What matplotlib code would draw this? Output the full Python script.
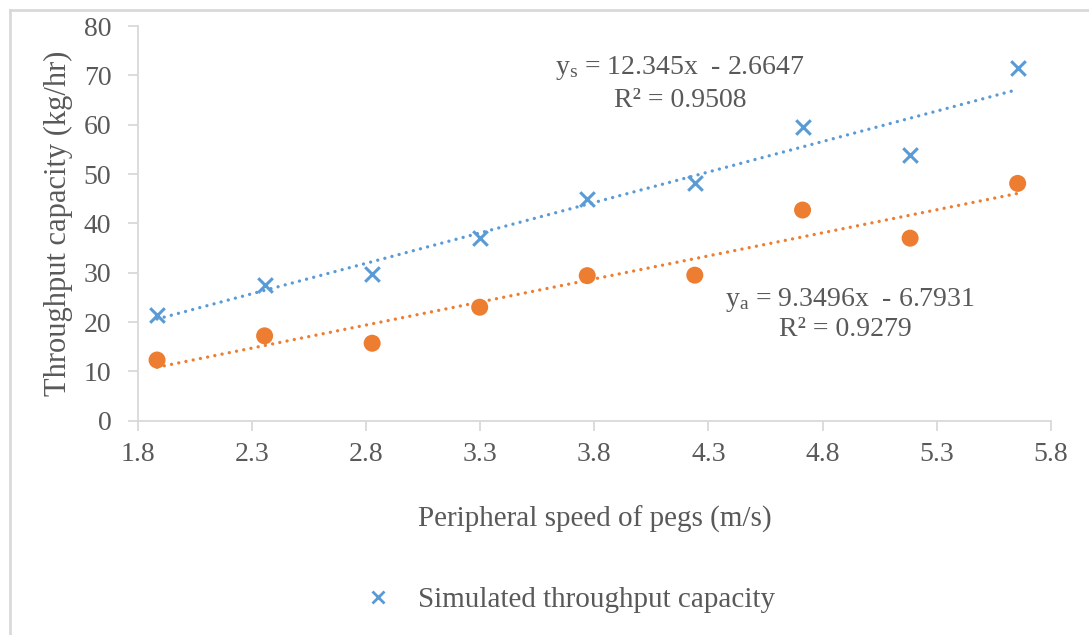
import matplotlib.pyplot as plt
from matplotlib.lines import Line2D
import numpy as np

plt.rcParams["font.family"] = ["Liberation Serif", "DejaVu Serif"]
plt.rcParams["mathtext.fontset"] = "custom"
plt.rcParams["mathtext.rm"] = "Liberation Serif"
plt.rcParams["mathtext.it"] = "Liberation Serif"

# data
speed = [1.885, 2.356, 2.827, 3.298, 3.769, 4.240, 4.712, 5.183, 5.654]
simulated = [21.4, 27.6, 29.8, 37.0, 44.9, 48.2, 59.5, 53.9, 71.4]
actual = [12.3, 17.2, 15.7, 23.0, 29.4, 29.5, 42.7, 37.0, 48.1]

# trend line coefficients as printed on the chart
sim_fit = (12.345, -2.6647)
act_fit = (9.3496, -6.7931)

blue = "#5B9BD5"
orange = "#ED7D31"
grey_txt = "#595959"
grey_ln = "#D9D9D9"

fig = plt.figure(figsize=(10.89, 6.35), dpi=100)
ax = fig.add_axes([0.1264, 0.3375, 0.8387, 0.6215])

# outer chart frame (cut at right and bottom)
fig.add_artist(Line2D([10 / 1089, 10 / 1089], [0, 1 - 10 / 635],
                      transform=fig.transFigure, color=grey_ln, lw=2))
fig.add_artist(Line2D([10 / 1089, 1.0], [1 - 10 / 635, 1 - 10 / 635],
                      transform=fig.transFigure, color=grey_ln, lw=2))

xs = np.array([speed[0], speed[-1]])
dots = (0, (0.01, 2.2))
ax.plot(xs, sim_fit[0] * xs + sim_fit[1], color=blue, lw=2.4,
        linestyle=dots, dash_capstyle="round", zorder=2)
ax.plot(xs, act_fit[0] * xs + act_fit[1], color=orange, lw=2.4,
        linestyle=dots, dash_capstyle="round", zorder=2)

ax.scatter(speed, simulated, marker="x", s=110, color=blue, linewidths=2.2,
           zorder=3)
ax.scatter(speed, actual, marker="o", s=150, color=orange, edgecolors="none",
           zorder=3)

ax.set_xlim(1.8, 5.8)
ax.set_ylim(0, 80)
ax.set_xticks(np.arange(1.8, 5.81, 0.5))
ax.set_xticklabels([f"{v:.1f}" for v in np.arange(1.8, 5.81, 0.5)])
ax.set_yticks(range(0, 81, 10))

for side in ["top", "right"]:
    ax.spines[side].set_visible(False)
for side in ["left", "bottom"]:
    ax.spines[side].set_color(grey_ln)
    ax.spines[side].set_linewidth(1.3)
ax.tick_params(colors=grey_ln, labelcolor=grey_txt, labelsize=20,
               length=7, width=1.3)
ax.tick_params(axis="x", pad=8)
ax.tick_params(axis="y", pad=12)

ax.set_xlabel("Peripheral speed of pegs (m/s)", fontsize=21, color=grey_txt,
              labelpad=28)
ax.set_ylabel("Throughput capacity (kg/hr)", fontsize=22, color=grey_txt,
              labelpad=8)

ax.text(4.176, 71.5, r"$\mathregular{y_s}$ = 12.345x  - 2.6647", fontsize=20,
        color=grey_txt, ha="center", va="center")
ax.text(4.176, 65.0, "R² = 0.9508", fontsize=20, color=grey_txt,
        ha="center", va="center")
ax.text(4.92, 24.5, r"$\mathregular{y_a}$ = 9.3496x  - 6.7931", fontsize=20,
        color=grey_txt, ha="center", va="center")
ax.text(4.90, 18.4, "R² = 0.9279", fontsize=20, color=grey_txt,
        ha="center", va="center")

handle = Line2D([], [], marker="x", color=blue, linestyle="none",
                markersize=9, markeredgewidth=2)
fig.legend([handle], ["Simulated throughput capacity"], loc="center",
           bbox_to_anchor=(562 / 1089, 1 - 600 / 635), frameon=False,
           fontsize=21, labelcolor=grey_txt, handletextpad=0.4)

fig.savefig("out.png", dpi=100)
